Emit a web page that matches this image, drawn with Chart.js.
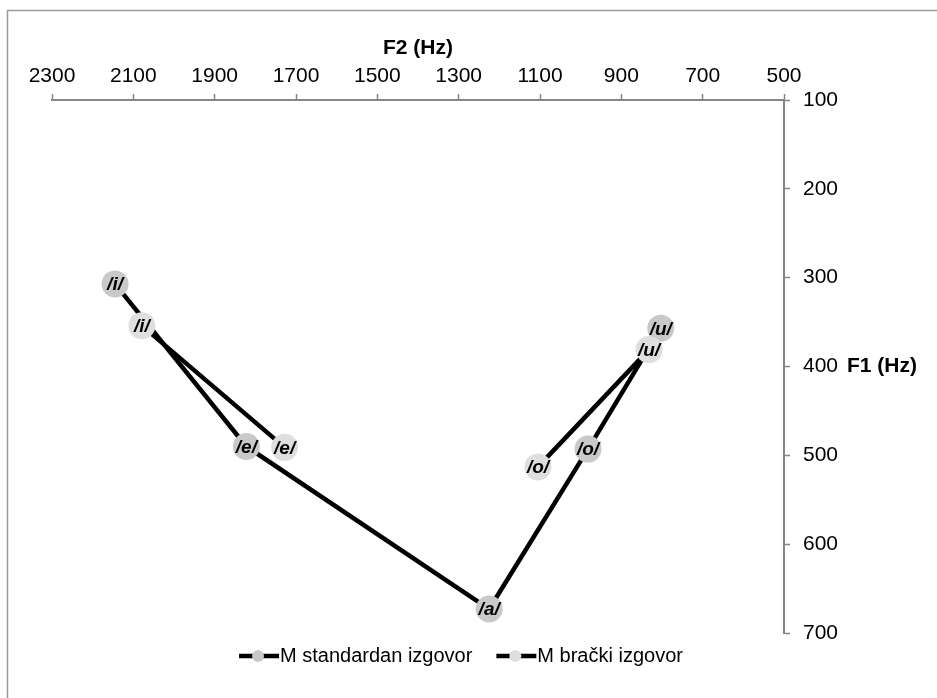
<!DOCTYPE html>
<html>
<head>
<meta charset="utf-8">
<script src="https://cdn.jsdelivr.net/npm/chart.js@4/dist/chart.umd.min.js"></script>
<style>
    html, body { margin: 0; padding: 0; background: #fff; }
    #wrap { width: 937px; height: 698px; position: relative; }
</style>
</head>
<body>
<div id="wrap"><canvas id="grafico"></canvas></div>
<script>
// vokali i formanti (Hz)
const vokali = ["/i/", "/e/", "/a/", "/o/", "/u/"];
const standardF2 = [2145, 1822, 1225, 982, 803];
const standardF1 = [307, 490, 673, 493, 357];
const brackiF2 = [2079, 1728, null, 1105, 832];
const brackiF1 = [354, 491, null, 513, 381];
const f2Ticks = [2300, 2100, 1900, 1700, 1500, 1300, 1100, 900, 700, 500];
const f1Ticks = [100, 200, 300, 400, 500, 600, 700];

const FONT = "'Liberation Sans', Arial, sans-serif";

function tocke(f2, f1) {
    return f2.map((x, i) => ({ x: x, y: f1[i] }));
}

// --- natpisi u markerima, naslov F1, legenda, okvir ---
const crtez = {
    id: "crtez",
    afterDatasetDraw(chart, args) {
        const ctx = chart.ctx;
        ctx.save();
        ctx.font = "italic bold 19px " + FONT;
        ctx.fillStyle = "#000";
        ctx.textAlign = "center";
        ctx.textBaseline = "middle";
        args.meta.data.forEach((el, i) => {
            if (el.skip) return;
            ctx.fillText(vokali[i], el.x, el.y + 1);
        });
        ctx.restore();
    },
    afterDraw(chart) {
        const ctx = chart.ctx;
        const area = chart.chartArea;
        ctx.save();

        // okvir
        ctx.strokeStyle = "#9a9a9a";
        ctx.lineWidth = 1.5;
        ctx.beginPath();
        ctx.moveTo(chart.width, 10.5);
        ctx.lineTo(7.5, 10.5);
        ctx.lineTo(7.5, chart.height);
        ctx.stroke();

        // naslov F1
        ctx.font = "bold 21px " + FONT;
        ctx.fillStyle = "#000";
        ctx.textAlign = "left";
        ctx.textBaseline = "middle";
        ctx.fillText("F1 (Hz)", area.right + 63, chart.scales.y.getPixelForValue(400));

        // legenda
        ctx.font = "20px " + FONT;
        const sirinaSimbola = 41;
        const razmak = 24;
        const stavke = chart.data.datasets.map(ds => ({
            ds: ds,
            w: sirinaSimbola + ctx.measureText(ds.label).width
        }));
        const ukupno = stavke.reduce((s, st) => s + st.w, 0) + razmak * (stavke.length - 1);
        let x = 461 - ukupno / 2;
        const y = 656;
        stavke.forEach(st => {
            ctx.strokeStyle = "#000";
            ctx.lineWidth = 4.5;
            ctx.beginPath();
            ctx.moveTo(x, y);
            ctx.lineTo(x + 40, y);
            ctx.stroke();
            ctx.fillStyle = st.ds.pointBackgroundColor;
            ctx.beginPath();
            ctx.arc(x + 19, y, 6, 0, Math.PI * 2);
            ctx.fill();
            ctx.fillStyle = "#000";
            ctx.fillText(st.ds.label, x + sirinaSimbola, y);
            x += st.w + razmak;
        });
        ctx.restore();
    }
};

new Chart(document.getElementById("grafico"), {
    type: "scatter",
    data: {
        datasets: [
            {
                label: "M standardan izgovor",
                data: tocke(standardF2, standardF1),
                showLine: true,
                borderColor: "#000",
                borderWidth: 4.5,
                pointRadius: 13.5,
                pointBorderWidth: 0,
                pointBackgroundColor: "#c9c9c9",
                spanGaps: false,
                order: 2
            },
            {
                label: "M bra\u010Dki izgovor",
                data: tocke(brackiF2, brackiF1),
                showLine: true,
                borderColor: "#000",
                borderWidth: 4.5,
                pointRadius: 13.5,
                pointBorderWidth: 0,
                pointBackgroundColor: "#dfdfdf",
                spanGaps: false,
                order: 1
            }
        ]
    },
    options: {
        responsive: true,
        maintainAspectRatio: false,
        animation: false,
        layout: { padding: { left: 52, top: 36, right: 0, bottom: 65 } },
        plugins: {
            legend: { display: false },
            tooltip: { enabled: false }
        },
        scales: {
            x: {
                type: "linear",
                position: "top",
                reverse: true,
                min: 500,
                max: 2300,
                afterBuildTicks: s => { s.ticks = f2Ticks.map(v => ({ value: v })); },
                afterFit: s => { s.height = 64; },
                ticks: {
                    color: "#000",
                    font: { family: FONT, size: 21 },
                    padding: 5,
                    maxRotation: 0,
                    autoSkip: false,
                    callback: v => String(v)
                },
                grid: {
                    drawOnChartArea: false,
                    drawTicks: true,
                    tickLength: 6,
                    tickWidth: 1.5,
                    tickColor: "#868686"
                },
                border: { display: true, color: "#868686", width: 2 },
                title: {
                    display: true,
                    text: "F2 (Hz)",
                    color: "#000",
                    font: { family: FONT, size: 21, weight: "bold" },
                    padding: { top: 0, bottom: 0 }
                }
            },
            y: {
                type: "linear",
                position: "right",
                reverse: true,
                min: 100,
                max: 700,
                afterBuildTicks: s => { s.ticks = f1Ticks.map(v => ({ value: v })); },
                afterFit: s => { s.width = 937 - 784; },
                ticks: {
                    color: "#000",
                    font: { family: FONT, size: 21 },
                    padding: 13,
                    callback: v => String(v)
                },
                grid: {
                    drawOnChartArea: false,
                    drawTicks: true,
                    tickLength: 6,
                    tickWidth: 1.5,
                    tickColor: "#868686"
                },
                border: { display: true, color: "#868686", width: 2 }
            }
        }
    },
    plugins: [crtez]
});
</script>
</body>
</html>
